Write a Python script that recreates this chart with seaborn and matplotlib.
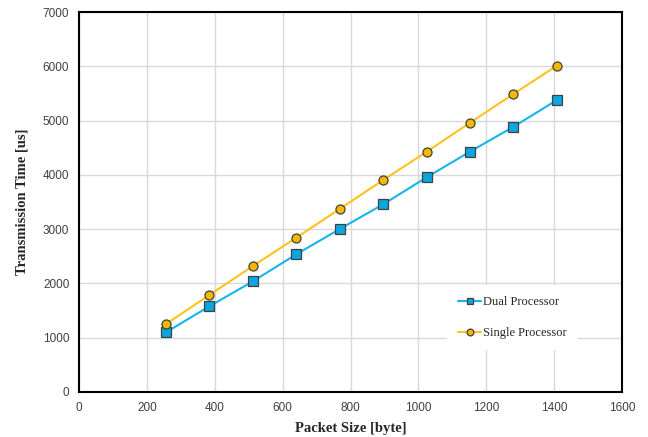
import numpy as np, pandas as pd
import matplotlib as mpl; mpl.use("Agg")
import matplotlib.pyplot as plt
import seaborn as sns

# packet sizes (byte) and transmission times (us)
PACKET = [256, 384, 512, 640, 768, 896, 1024, 1152, 1280, 1408]
DUAL   = [1100, 1578, 2038, 2536, 3002, 3457, 3954, 4428, 4886, 5378]
SINGLE = [1252, 1786, 2320, 2842, 3372, 3904, 4425, 4960, 5490, 6012]
XTICKS = list(range(0, 1601, 200))
YTICKS = list(range(0, 7001, 1000))

sns.set_theme(style="white")
mpl.rcParams.update({"font.family": ["Liberation Sans", "DejaVu Sans"]})

fig = plt.figure(figsize=(6.48, 4.37), dpi=100)
ax = fig.add_axes([0.122, 0.103, 0.838, 0.8695])

series = [("Dual Processor", DUAL, "#16B4EC", "#0AA6E0", "s"),
          ("Single Processor", SINGLE, "#FFC21C", "#F5B800", "o")]
for name, vals, lc, fc, mk in series:
    df = pd.DataFrame({"x": PACKET, "y": vals})
    sns.lineplot(data=df, x="x", y="y", ax=ax, color=lc, lw=1.5, marker=mk,
                 markersize=6.5, markerfacecolor=fc, markeredgecolor="#404040",
                 markeredgewidth=0.9, label=name)

ax.set_xlim(0, 1600); ax.set_ylim(0, 7000)
ax.set_xticks(XTICKS); ax.set_yticks(YTICKS)
ax.grid(True, color="#d9d9d9", lw=1.0)
ax.set_axisbelow(True)
for s in ax.spines.values():
    s.set_color("black"); s.set_linewidth(1.5)
ax.tick_params(axis="both", labelsize=8.5, labelcolor="#404040", length=0, pad=7)

lab = dict(family=["Liberation Serif", "DejaVu Serif"], fontweight="bold", fontsize=10.5)
ax.set_xlabel("Packet Size [byte]", labelpad=6, **lab)
ax.set_ylabel("Transmission Time [us]", labelpad=10, **lab)

leg = ax.legend(loc="center", bbox_to_anchor=(0.798, 0.196), frameon=True,
                facecolor="white", edgecolor="none", framealpha=1, fancybox=False,
                prop={"family": ["Liberation Serif", "DejaVu Serif"], "size": 9},
                handlelength=1.8, handletextpad=0.15, labelspacing=1.5, borderpad=0.9,
                markerscale=0.75)

fig.savefig("out.png", dpi=100)
